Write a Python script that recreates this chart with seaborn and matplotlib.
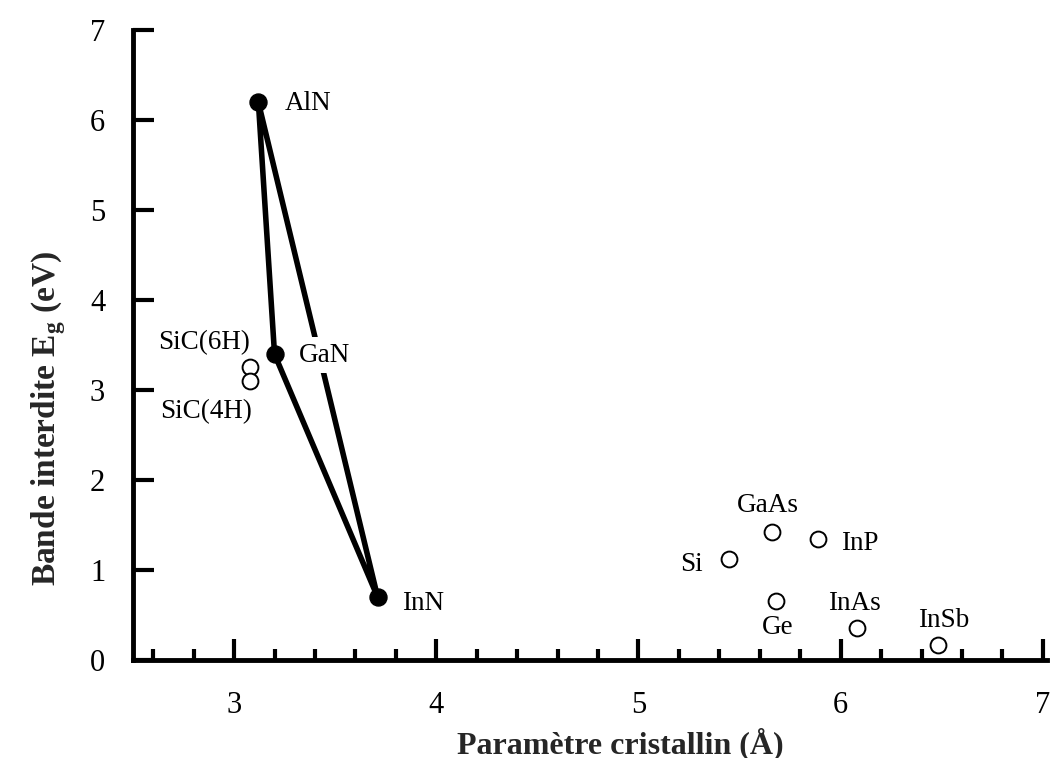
import matplotlib
matplotlib.use("Agg")
import matplotlib.pyplot as plt
import seaborn as sns
import pandas as pd
from matplotlib.ticker import MultipleLocator

# Nitrides (filled, joined)
nitride_names = ["AlN", "GaN", "InN"]
nitride_a = [3.12, 3.20, 3.71]
nitride_eg = [6.2, 3.4, 0.7]

# Other semiconductors (open circles)
other_names = ["SiC(6H)", "SiC(4H)", "Si", "GaAs", "InP", "Ge", "InAs", "InSb"]
other_a = [3.08, 3.08, 5.45, 5.66, 5.89, 5.68, 6.08, 6.48]
other_eg = [3.26, 3.10, 1.12, 1.43, 1.35, 0.66, 0.36, 0.17]

x_ticks = [3, 4, 5, 6, 7]
y_ticks = [0, 1, 2, 3, 4, 5, 6, 7]

sns.set_theme(style="ticks")
plt.rcParams["font.family"] = ["Liberation Serif", "DejaVu Serif"]
plt.rcParams["mathtext.fontset"] = "custom"
plt.rcParams["mathtext.rm"] = "Liberation Serif"
plt.rcParams["mathtext.bf"] = "Liberation Serif:bold"

fig = plt.figure(figsize=(10.59, 7.58), dpi=100)
ax = fig.add_axes([0.1256, 0.129, 0.863, 0.831])

# triangle edges
tri = pd.DataFrame({
    "a": nitride_a + [nitride_a[0]],
    "eg": nitride_eg + [nitride_eg[0]],
})
sns.lineplot(data=tri, x="a", y="eg", sort=False, color="black", lw=4,
             estimator=None, ax=ax, zorder=2)
nit = pd.DataFrame({"a": nitride_a, "eg": nitride_eg, "name": nitride_names})
sns.scatterplot(data=nit, x="a", y="eg", color="black", s=150, ax=ax,
                edgecolor="black", zorder=5)
oth = pd.DataFrame({"a": other_a, "eg": other_eg, "name": other_names})
sns.scatterplot(data=oth, x="a", y="eg", marker="o", s=130, facecolor="white",
                edgecolor="black", linewidth=1.4, ax=ax, zorder=5)

fs = 19.5
lab = dict(fontsize=fs, color="black", zorder=6)
ax.text(3.25, 6.19, "AlN", ha="left", va="center", **lab)
ax.text(3.32, 3.39, "GaN", ha="left", va="center",
        bbox=dict(facecolor="white", edgecolor="none", pad=4), **lab)
ax.text(3.83, 0.63, "InN", ha="left", va="center", **lab)
ax.text(3.08, 3.53, "SiC(6H)", ha="right", va="center", **lab)
ax.text(2.86, 2.76, "SiC(4H)", ha="center", va="center", **lab)
ax.text(5.32, 1.06, "Si", ha="right", va="center", **lab)
ax.text(5.64, 1.72, "GaAs", ha="center", va="center", **lab)
ax.text(6.00, 1.30, "InP", ha="left", va="center", **lab)
ax.text(5.69, 0.36, "Ge", ha="center", va="center", **lab)
ax.text(6.07, 0.63, "InAs", ha="center", va="center", **lab)
ax.text(6.51, 0.44, "InSb", ha="center", va="center", **lab)

ax.set_xlim(2.5, 7.02)
ax.set_ylim(0, 7)
ax.set_xticks(x_ticks)
ax.set_yticks(y_ticks)
ax.xaxis.set_minor_locator(MultipleLocator(0.2))
ax.tick_params(axis="both", which="major", direction="in", length=15, width=3,
               labelsize=22, color="black", labelcolor="black")
ax.tick_params(axis="x", which="major", pad=22)
ax.tick_params(axis="y", which="major", pad=20)
ax.tick_params(axis="x", which="minor", direction="in", length=8, width=3,
               color="black")
for sp in ["top", "right"]:
    ax.spines[sp].set_visible(False)
for sp in ["left", "bottom"]:
    ax.spines[sp].set_linewidth(3.5)
    ax.spines[sp].set_color("black")

ax.set_xlabel("Paramètre cristallin (Å)", fontsize=23, fontweight="bold")
ax.set_ylabel(r"Bande interdite E$_\mathbf{g}$ (eV)", fontsize=24,
              fontweight="bold")
ax.xaxis.set_label_coords(0.533, -0.106)
ax.yaxis.set_label_coords(-0.0715, 0.384)
ax.grid(False)

fig.savefig("out.png", dpi=100)
